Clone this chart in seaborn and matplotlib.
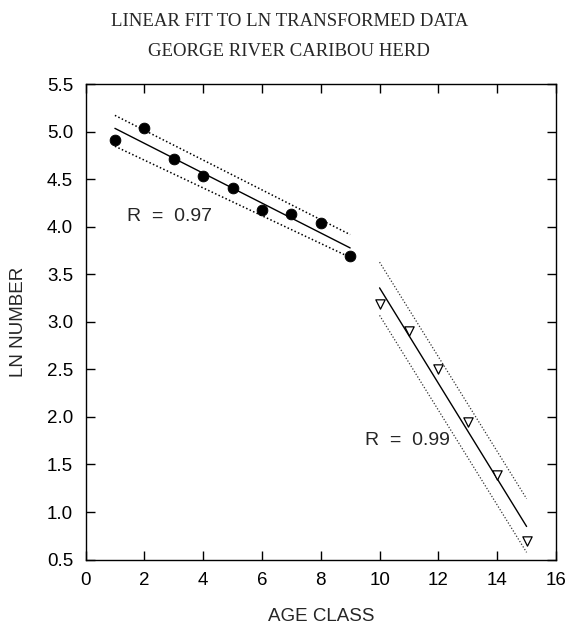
import numpy as np
import pandas as pd
import matplotlib
matplotlib.use("Agg")
import matplotlib.pyplot as plt
import seaborn as sns

# ---- data ----
age1 = [1, 2, 3, 4, 5, 6, 7, 8, 9]
ln1 = [4.92, 5.04, 4.72, 4.54, 4.41, 4.18, 4.14, 4.04, 3.69]
age2 = [10, 11, 12, 13, 14, 15]
ln2 = [3.19, 2.90, 2.50, 1.95, 1.39, 0.69]

band1_x = [1, 9]
band1_upper = [5.175, 3.92]
band1_lower = [4.85, 3.68]
band2_x = [10, 15]
band2_upper = [3.63, 1.14]
band2_lower = [3.07, 0.575]

r_labels = ["R  =  0.97", "R  =  0.99"]
r_pos_x = [1.4, 9.5]
r_pos_y = [4.11, 1.75]

xticks = [0, 2, 4, 6, 8, 10, 12, 14, 16]
yticks = [0.5, 1.0, 1.5, 2.0, 2.5, 3.0, 3.5, 4.0, 4.5, 5.0, 5.5]

title_lines = ["LINEAR FIT TO LN TRANSFORMED DATA", "GEORGE RIVER CARIBOU HERD"]

# ---- styling ----
sns.set_style("ticks", {"xtick.direction": "in", "ytick.direction": "in",
                        "axes.edgecolor": "black"})
plt.rcParams['font.family'] = ['Liberation Sans', 'DejaVu Sans']

fig = plt.figure(figsize=(5.67, 6.30), dpi=100)
ax = fig.add_axes([0.1508, 0.1119, 0.9806 - 0.1508, 0.8659 - 0.1119])

df1 = pd.DataFrame({"age": age1, "ln": ln1})
df2 = pd.DataFrame({"age": age2, "ln": ln2})

# fitted lines from the data
c1 = np.polyfit(age1, ln1, 1)
c2 = np.polyfit(age2, ln2, 1)
fit1 = pd.DataFrame({"age": [age1[0], age1[-1]],
                     "ln": np.polyval(c1, [age1[0], age1[-1]])})
fit2 = pd.DataFrame({"age": [age2[0], age2[-1]],
                     "ln": np.polyval(c2, [age2[0], age2[-1]])})

sns.lineplot(data=fit1, x="age", y="ln", color="black", lw=1.0, ax=ax)
sns.lineplot(data=fit2, x="age", y="ln", color="black", lw=1.0, ax=ax)
for bx, bu, bl, lw, col in [(band1_x, band1_upper, band1_lower, 1.1, "black"),
                            (band2_x, band2_upper, band2_lower, 0.9, "#333333")]:
    sns.lineplot(x=bx, y=bu, color=col, lw=lw, ls=(0, (1, 1.5)), ax=ax)
    sns.lineplot(x=bx, y=bl, color=col, lw=lw, ls=(0, (1, 1.5)), ax=ax)

sns.scatterplot(data=df1, x="age", y="ln", marker="o", s=60, color="black",
                edgecolor="black", zorder=5, ax=ax)
sns.scatterplot(data=df2, x="age", y="ln", marker="v", s=45, facecolor="white",
                edgecolor="black", linewidth=0.9, zorder=5, ax=ax)

for t, x, y in zip(r_labels, r_pos_x, r_pos_y):
    ax.text(x, y, t, fontsize=14, va="center", ha="left")

ax.set_xlim(0, 16)
ax.set_ylim(0.5, 5.5)
ax.set_xticks(xticks)
ax.set_yticks(yticks)
ax.set_xticklabels([str(v) for v in xticks])
ax.set_yticklabels([f"{v:.1f}" for v in yticks])
ax.tick_params(top=True, right=True, length=6.5, width=1.0, labelsize=13.5,
               pad=9, colors="black")
for sp in ax.spines.values():
    sp.set_linewidth(1.0)
    sp.set_visible(True)

ax.set_xlabel("AGE CLASS", fontsize=13.5, labelpad=14)
ax.set_ylabel("LN NUMBER", fontsize=13.5, labelpad=14)

fig.text(0.51, 0.979, title_lines[0], ha="center", va="top", fontsize=13.5,
         family=["Liberation Serif", "DejaVu Serif"])
fig.text(0.51, 0.931, title_lines[1], ha="center", va="top", fontsize=13.5,
         family=["Liberation Serif", "DejaVu Serif"])

fig.savefig("out.png", dpi=100)
